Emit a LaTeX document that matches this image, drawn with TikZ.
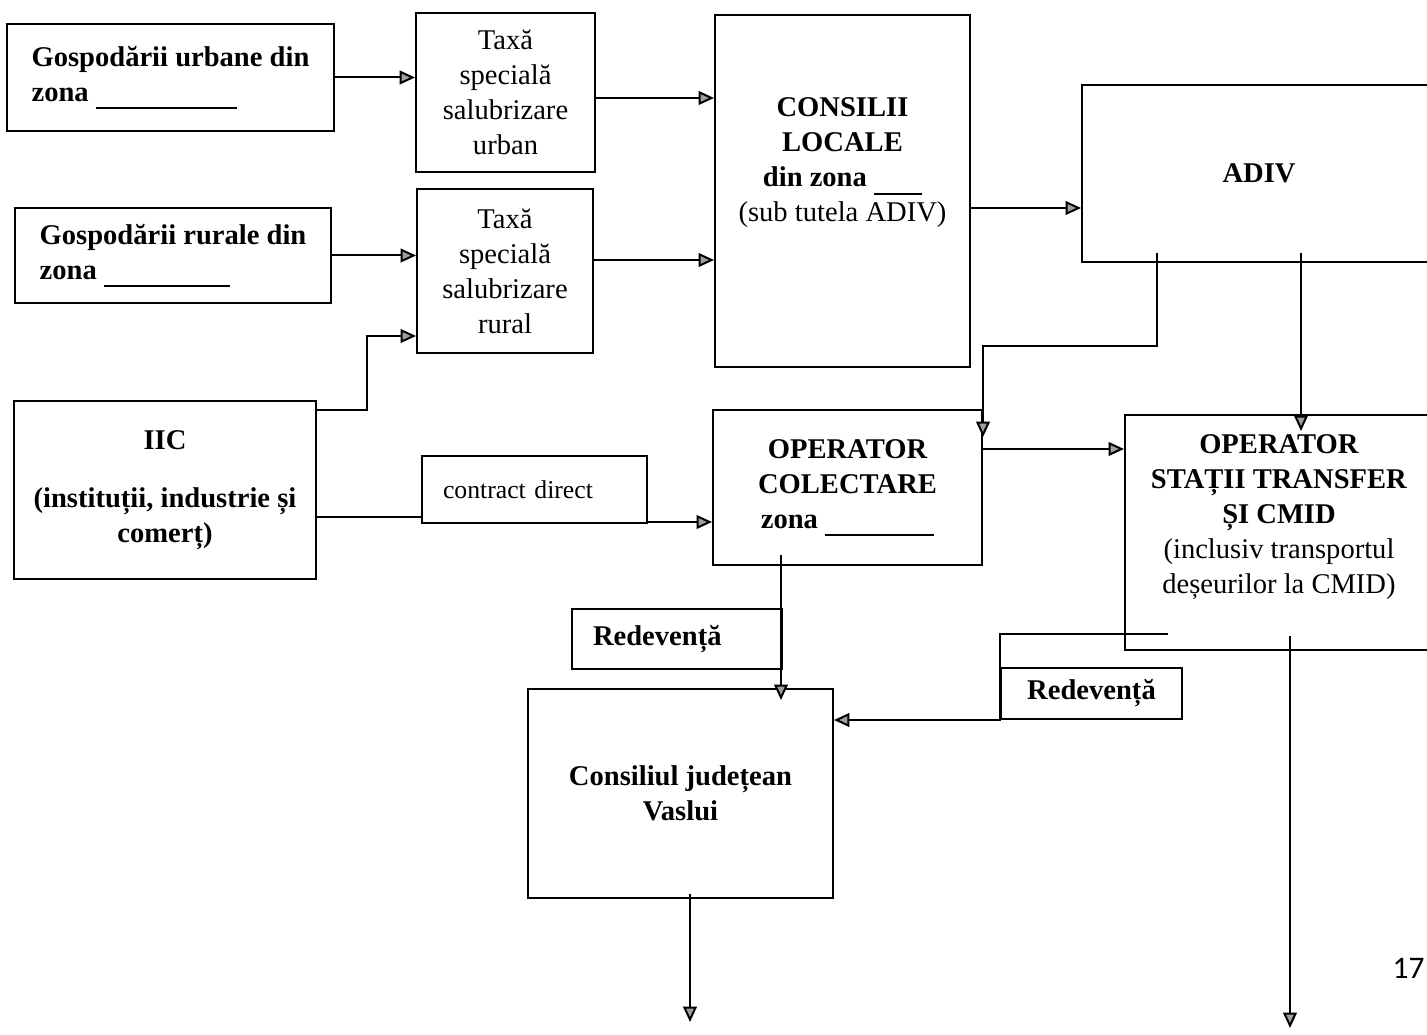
\documentclass[tikz,border=0pt]{standalone}
\usepackage{fontspec}
\setmainfont{Liberation Serif}
\newfontfamily\pagefont{Carlito}
\usetikzlibrary{arrows.meta,calc}
\newlength\px
\setlength\px{0.35pt}

\begin{document}
\begin{tikzpicture}[x=0.35pt, y=-0.35pt,
    box/.style={draw, line width=0.7pt, inner sep=0pt, align=center,
      font=\fontsize{10}{12.25}\selectfont},
    heavy/.style={box, font=\bfseries\fontsize{10}{12.25}\selectfont},
    txt/.style={inner sep=0pt, align=center, font=\fontsize{10}{12.25}\selectfont},
    link/.style={line width=0.7pt},
    arr/.style={link, -{Triangle[length=5.4pt, width=4.8pt, fill=gray!75]}}]
    \useasboundingbox (0,0) rectangle (1427,1035);

    % sources and taxes
    \node[heavy, align=left, minimum width=327\px, minimum height=107\px] (urb) at (170.5,77.5)
      {Gospodării urbane din\\zona \rule[-2.8pt]{141\px}{0.6pt}};
    \node[heavy, align=left, minimum width=316\px, minimum height=95\px] (rur) at (173,255.5)
      {Gospodării rurale din\\zona \rule[-2.5pt]{126\px}{0.6pt}};
    \node[heavy, minimum width=302\px, minimum height=178\px] (iic) at (165,490)
      {IIC\\[8pt](instituții, industrie și\\comerț)};
    \node[box, minimum width=179\px, minimum height=159\px] (tu) at (505.5,92.5)
      {Taxă\\specială\\salubrizare\\urban};
    \node[box, minimum width=176\px, minimum height=164\px] (tr) at (505,271)
      {Taxă\\specială\\salubrizare\\rural};
    \node[box, font=\fontsize{9}{11}\selectfont, align=left, text width=183\px,
      minimum width=225\px, minimum height=67\px] (cd) at (534.5,489.5) {contract direct};

    % councils and operators
    \node[box, minimum width=255\px, minimum height=352\px] (cl) at (842.5,191) {};
    \node[txt] (cl-txt) at ([yshift=28\px]cl.center)
      {\textbf{CONSILII}\\\textbf{LOCALE}\\\textbf{din zona \rule[-2.8pt]{48\px}{0.6pt}}\\(sub tutela ADIV)};
    \node[heavy, minimum width=354\px, minimum height=177\px] (adiv) at (1259,173.5) {ADIV};
    \node[heavy, minimum width=269\px, minimum height=155\px] (oc) at (847.5,487.5)
      {OPERATOR\\COLECTARE\\zona \rule[-2.5pt]{109\px}{0.6pt}};
    \node[box, minimum width=308\px, minimum height=235\px] (os) at (1279,532.5) {};
    \node[txt] (os-txt) at ([yshift=15\px]os.center)
      {\textbf{OPERATOR}\\\textbf{STAȚII TRANSFER}\\\textbf{ȘI CMID}\\(inclusiv transportul\\deșeurilor la CMID)};
    \node[heavy, align=left, text width=168\px, minimum width=210\px, minimum height=60\px] (r1)
      at (677,639) {Redevență};
    \node[heavy, minimum width=181\px, minimum height=51\px] (r2) at (1091.5,693.5) {Redevență};
    \node[heavy, minimum width=305\px, minimum height=209\px] (cj) at (680.5,793.5)
      {Consiliul județean\\Vaslui};
    \node[font=\pagefont\fontsize{11}{13}\selectfont, anchor=east, inner sep=0pt] (pg) at (1425,968) {17};

    \coordinate (cjout) at (690,1022);
    \coordinate (osout) at (1290,1028);

    % flows
    \draw[arr] (urb.east) -- (urb.east -| tu.west);
    \draw[arr] (tu.east |- 0,98) -- (cl.west |- 0,98);
    \draw[arr] (rur.east) -- (rur.east -| tr.west);
    \draw[arr] (tr.east |- 0,260) -- (cl.west |- 0,260);
    \draw[arr] (iic.east |- 0,410) -- (367,410) |- (tr.west |- 0,336);
    \draw[arr] (cl.east |- 0,208) -- (adiv.west |- 0,208);
    \draw[link] (iic.east |- 0,517) -- (cd.west |- 0,517);
    \draw[arr] (cd.east |- 0,522) -- (oc.west |- 0,522);
    \draw[arr] ($(adiv.south west)+(76,-10)$) |- ($(oc.north east)+(0,-63)$) -- ($(oc.north east)+(0,28)$);
    \draw[arr] (oc.east |- 0,449) -- (os.west |- 0,449);
    \draw[arr] ($(adiv.south west)+(220,-10)$) -- ($(os.north west)+(177,17)$);
    \draw[arr] ($(oc.south west)+(69,-11)$) -- ($(cj.north west)+(254,12)$);
    \draw[arr] ($(os.south west)+(44,-17)$) -| (r2.south west) -- (r2.south west -| cj.east);
    \draw[arr] ($(cj.south -| cjout)+(0,-5)$) -- (cjout);
    \draw[arr] ($(os.south -| osout)+(0,-15)$) -- (osout);
\end{tikzpicture}
\end{document}
